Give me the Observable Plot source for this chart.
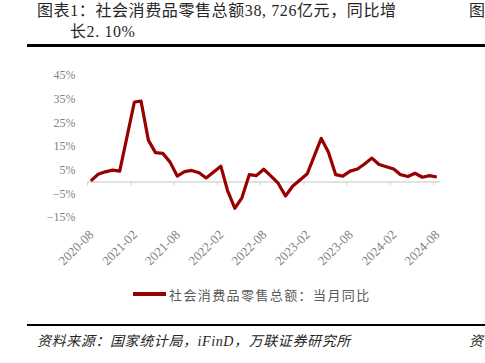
<!DOCTYPE html>
<html>
<head>
<meta charset="utf-8">
<script src="https://cdn.jsdelivr.net/npm/d3@7"></script>
<script src="https://cdn.jsdelivr.net/npm/@observablehq/plot@0.6"></script>
<style>
  html, body { margin: 0; padding: 0; background: #fff; }
  body { width: 485px; height: 363px; position: relative; overflow: hidden;
         font-family: "Liberation Serif", "Noto Sans CJK SC", serif; }
  .abs { position: absolute; white-space: nowrap; }
  .title { font-size: 16px; line-height: 20px; color: #262626; letter-spacing: 0.6px; }
  .rule { position: absolute; background: #000; }
  #legendText { font-size: 13px; color: #595959; letter-spacing: 1.4px; }
  .cap { font-size: 14px; font-style: italic; color: #262626; letter-spacing: 0.6px; }
  #chart { position: absolute; left: 0; top: 50px; }
</style>
</head>
<body>
<div class="abs title" style="left:37px; top:1px;">图表1：社会消费品零售总额38, 726亿元，同比增</div>
<div class="abs title" style="left:70px; top:22px;">长2. 10%</div>
<div class="abs title" style="left:469px; top:1px;">图</div>
<div class="rule" style="left:27px; top:44px; width:458px; height:3px;"></div>
<div id="chart"></div>
<div class="rule" style="left:133px; top:292px; width:33px; height:4px; background:#990000;"></div>
<div class="abs" id="legendText" style="left:169px; top:285px;">社会消费品零售总额：当月同比</div>
<div class="rule" style="left:27px; top:324px; width:458px; height:2px;"></div>
<div class="abs cap" style="left:37px; top:330px;">资料来源：国家统计局，iFinD，万联证券研究所</div>
<div class="abs cap" style="left:469px; top:330px;">资</div>
<script>
// Months (January figures are combined with February in the source, so no January)
const months = [
  "2020-08","2020-09","2020-10","2020-11","2020-12",
  "2021-02","2021-03","2021-04","2021-05","2021-06","2021-07","2021-08","2021-09","2021-10","2021-11","2021-12",
  "2022-02","2022-03","2022-04","2022-05","2022-06","2022-07","2022-08","2022-09","2022-10","2022-11","2022-12",
  "2023-02","2023-03","2023-04","2023-05","2023-06","2023-07","2023-08","2023-09","2023-10","2023-11","2023-12",
  "2024-02","2024-03","2024-04","2024-05","2024-06","2024-07","2024-08"
];
// 社会消费品零售总额：当月同比 (%)
const yoy = [
  0.5, 3.3, 4.3, 5.0, 4.6,
  33.8, 34.2, 17.7, 12.4, 12.1, 8.5, 2.5, 4.4, 4.9, 3.9, 1.7,
  6.7, -3.5, -11.1, -6.7, 3.1, 2.7, 5.4, 2.5, -0.5, -5.9, -1.8,
  3.5, 10.6, 18.4, 12.7, 3.1, 2.5, 4.6, 5.5, 7.6, 10.1, 7.4,
  5.5, 3.1, 2.3, 3.7, 2.0, 2.7, 2.1
];
const xTickLabels = ["2020-08","2021-02","2021-08","2022-02","2022-08","2023-02","2023-08","2024-02","2024-08"];
const yTicks = [45, 35, 25, 15, 5, -5, -15];
const seriesName = "社会消费品零售总额：当月同比";

const monthStart = s => new Date(Date.UTC(+s.slice(0,4), +s.slice(5,7) - 1, 1));
const monthMid = s => new Date(Date.UTC(+s.slice(0,4), +s.slice(5,7) - 1, 15));
const data = months.map((m, i) => ({date: monthMid(m), value: yoy[i]}));
const tickDates = xTickLabels.map(monthStart);
const fmtPct = d => (d < 0 ? "\u2212" : "") + Math.abs(d) + "%";

const chart = Plot.plot({
  width: 485,
  height: 240,
  marginLeft: 87,
  marginRight: 52,
  marginTop: 25,
  marginBottom: 73,
  style: {fontFamily: "'Liberation Serif', 'Noto Sans CJK SC', serif", fontSize: "12px", background: "transparent"},
  x: {type: "utc", domain: [monthStart("2020-08"), monthStart("2024-08")], axis: null},
  y: {domain: [-15, 45], axis: null},
  marks: [
    Plot.axisY({ticks: yTicks, tickSize: 0, tickPadding: 12, tickFormat: fmtPct, color: "#7f7f7f", label: null, fontSize: 12}),
    Plot.ruleY([{y: 0, x1: monthStart("2020-08"), x2: monthStart("2024-09")}], {y: "y", x1: "x1", x2: "x2", stroke: "#d9d9d9", strokeWidth: 1.5}),
    Plot.ruleX(tickDates, {x: d => d, y1: 0, y2: -1.7, stroke: "#d9d9d9", strokeWidth: 1.2}),
    Plot.text(tickDates, {x: d => d, y: -15, text: (d, i) => xTickLabels[i], rotate: -45, textAnchor: "end",
                          dx: 4, dy: 15, fontSize: 13, fill: "#7f7f7f"}),
    Plot.line(data, {x: "date", y: "value", stroke: "#990000", strokeWidth: 3.2, strokeLinejoin: "round", strokeLinecap: "butt", title: () => seriesName})
  ]
});
document.getElementById("chart").appendChild(chart);
</script>
</body>
</html>
